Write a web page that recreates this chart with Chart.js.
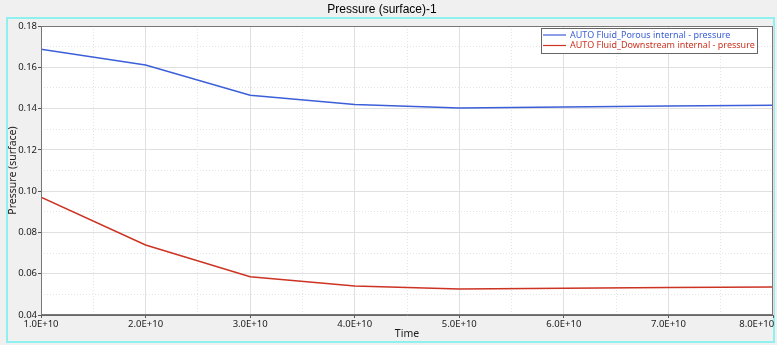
<!DOCTYPE html>
<html>
<head>
<meta charset="utf-8">
<script src="https://cdn.jsdelivr.net/npm/chart.js@4/dist/chart.umd.min.js"></script>
<style>
html, body { margin: 0; padding: 0; background: #f0f0f0; }
</style>
</head>
<body>
<canvas id="myChart" width="777" height="345"></canvas>
<script>
// values
let chartTitle = 'Pressure (surface)-1';
let timeValues = [1e10, 2e10, 3e10, 4e10, 5e10, 6e10, 7e10, 8e10];
let porousPressure = [0.1688, 0.1611, 0.1465, 0.1420, 0.1403, 0.1408, 0.1412, 0.1416];
let downstreamPressure = [0.0971, 0.0739, 0.0585, 0.0541, 0.0526, 0.0529, 0.0533, 0.0536];
let seriesNames = ['AUTO Fluid_Porous internal - pressure', 'AUTO Fluid_Downstream internal - pressure'];
let seriesColors = ['#3b5fd8', '#cc3322'];
let xTickValues = [1e10, 2e10, 3e10, 4e10, 5e10, 6e10, 7e10, 8e10];
let yTickValues = [0.04, 0.06, 0.08, 0.10, 0.12, 0.14, 0.16, 0.18];

let toPoints = (ys) => ys.map((y, i) => ({ x: timeValues[i], y: y }));
let tickFont = { family: 'Noto Sans', size: 9.5 };

let framePlugin = {
    id: 'frame',
    beforeDraw(chart) {
        let ctx = chart.ctx;
        let a = chart.chartArea;
        ctx.save();
        ctx.fillStyle = '#f0f0f0';
        ctx.fillRect(0, 0, chart.width, chart.height);
        ctx.strokeStyle = '#8ff0f0';
        ctx.lineWidth = 2;
        ctx.strokeRect(7, 18, 767, 324);
        ctx.fillStyle = '#ffffff';
        ctx.fillRect(a.left, a.top, a.right - a.left, a.bottom - a.top);
        ctx.fillStyle = '#000';
        ctx.font = '12px "Liberation Sans"';
        ctx.textAlign = 'center';
        ctx.textBaseline = 'middle';
        ctx.fillText(chartTitle, 382, 10);
        ctx.restore();
    },
    afterDraw(chart) {
        let ctx = chart.ctx;
        let a = chart.chartArea;
        ctx.save();
        ctx.strokeStyle = '#777';
        ctx.lineWidth = 1;
        ctx.strokeRect(a.left + 0.5, a.top + 0.5, a.right - a.left - 1, a.bottom - a.top - 1);
        // legend box inside the plot, top right
        let bx = 541, by = 28, bw = 216, bh = 25;
        ctx.fillStyle = '#fff';
        ctx.fillRect(bx, by, bw, bh);
        ctx.strokeStyle = '#666';
        ctx.strokeRect(bx + 0.5, by + 0.5, bw, bh);
        ctx.font = '9px "Noto Sans"';
        ctx.textBaseline = 'middle';
        chart.data.datasets.forEach((ds, i) => {
            let y = by + 7 + i * 10.5;
            ctx.strokeStyle = ds.borderColor;
            ctx.lineWidth = 1.2;
            ctx.beginPath();
            ctx.moveTo(bx + 2, y);
            ctx.lineTo(bx + 25, y);
            ctx.stroke();
            ctx.fillStyle = ds.borderColor;
            ctx.fillText(ds.label, bx + 29, y);
        });
        ctx.restore();
    }
};

let ctx = document.getElementById('myChart').getContext('2d');
let chart = new Chart(ctx, {
    type: 'line',
    data: {
        datasets: [{
            label: seriesNames[0],
            borderColor: seriesColors[0],
            data: toPoints(porousPressure),
        }, {
            label: seriesNames[1],
            borderColor: seriesColors[1],
            data: toPoints(downstreamPressure),
        }]
    },
    options: {
        responsive: false,
        animation: false,
        layout: { padding: { top: 26, right: 4, left: 0, bottom: 0 } },
        elements: {
            line: { borderWidth: 1.5, tension: 0 },
            point: { radius: 0 }
        },
        plugins: {
            legend: { display: false },
            tooltip: { enabled: false }
        },
        scales: {
            x2: {
                type: 'linear', position: 'bottom', min: 1e10, max: 8e10,
                ticks: { display: false, stepSize: 5e9 },
                grid: { color: '#e4e4e4', drawTicks: false },
                border: { display: false, dash: [1, 2] },
                afterFit: (s) => { s.height = 0; s.paddingLeft = 0; s.paddingRight = 0; }
            },
            y2: {
                type: 'linear', position: 'left', min: 0.04, max: 0.18,
                ticks: { display: false, stepSize: 0.01 },
                grid: { color: '#e4e4e4', drawTicks: false },
                border: { display: false, dash: [1, 2] },
                afterFit: (s) => { s.width = 0; s.paddingTop = 0; s.paddingBottom = 0; }
            },
            x: {
                type: 'linear', position: 'bottom', min: 1e10, max: 8e10,
                afterBuildTicks: (s) => { s.ticks = xTickValues.map(v => ({ value: v })); },
                ticks: {
                    autoSkip: false, maxRotation: 0, padding: 1, color: '#1a1a1a', font: tickFont,
                    callback: (v) => {
                        let t = v.toExponential(1).toUpperCase();
                        return v === xTickValues[xTickValues.length - 1] ? t + '\u2007\u2007\u2007\u2007\u2007\u2007' : t;
                    }
                },
                grid: { color: '#e0e0e0', tickLength: 3, tickColor: '#555' },
                border: { color: '#666' },
                title: { display: true, text: 'Time', color: '#1a1a1a', font: { family: 'Noto Sans', size: 10.5 }, padding: { top: 0, bottom: 5 } },
                afterFit: (s) => { s.height = 30; s.paddingLeft = 0; s.paddingRight = 0; }
            },
            y: {
                type: 'linear', position: 'left', min: 0.04, max: 0.18,
                afterBuildTicks: (s) => { s.ticks = yTickValues.map(v => ({ value: v })); },
                ticks: { padding: 1, color: '#1a1a1a', font: tickFont, callback: (v) => v.toFixed(2) },
                grid: { color: '#e0e0e0', tickLength: 3, tickColor: '#555' },
                border: { color: '#666' },
                title: { display: true, text: 'Pressure (surface)', color: '#1a1a1a', font: { family: 'Noto Sans', size: 10.5 }, padding: { top: 7, bottom: 0 } },
                afterFit: (s) => { s.width = 41; s.paddingTop = 0; s.paddingBottom = 0; }
            }
        }
    },
    plugins: [framePlugin]
});
</script>
</body>
</html>
